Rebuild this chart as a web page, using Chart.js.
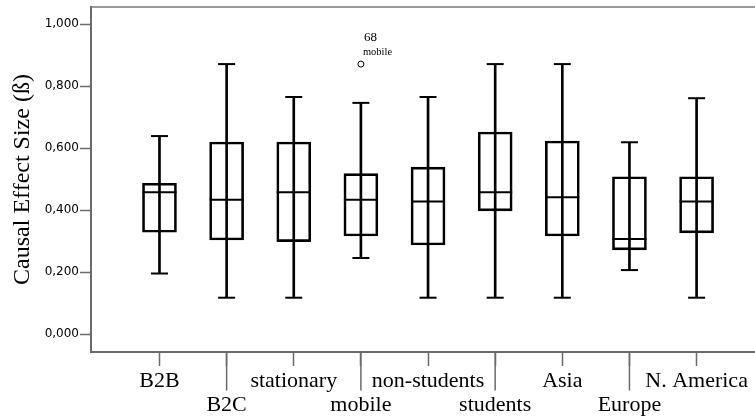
<!DOCTYPE html>
<html><head><meta charset="utf-8">
<script src="https://cdn.jsdelivr.net/npm/chart.js@4/dist/chart.umd.min.js"></script>
<style>html,body{margin:0;padding:0;background:#fff;overflow:hidden}#wrap{width:755px;height:418px;position:relative}</style>
</head><body><div id="wrap"><canvas id="c"></canvas></div>
<script>
const categories = ['B2B','B2C','stationary','mobile','non-students','students','Asia','Europe','N. America'];
const whiskerLow  = [0.196,0.118,0.118,0.246,0.118,0.118,0.118,0.207,0.118];
const q1          = [0.329,0.304,0.299,0.317,0.288,0.398,0.317,0.272,0.327];
const median      = [0.458,0.434,0.458,0.434,0.428,0.458,0.442,0.307,0.428];
const q3          = [0.487,0.620,0.620,0.518,0.539,0.652,0.623,0.508,0.508];
const whiskerHigh = [0.639,0.871,0.765,0.746,0.765,0.871,0.871,0.619,0.761];
const outlierCategory = ['mobile'];
const outlierValue = [0.871];
const outlierLabel = [['68','mobile']];
const yTickValues = [0,0.2,0.4,0.6,0.8,1.0];
const yTitle = 'Causal Effect Size (ß)';

const pos = (i) => i + 1;
const AXIS = '#6b6b6b';
const SERIF = '"Liberation Serif", "Times New Roman", serif';
const noPad = (s) => { s.paddingTop = 0; s.paddingBottom = 0; s.paddingLeft = 0; s.paddingRight = 0; };

const extras = {
  id: 'extras',
  afterDraw(chart) {
    const {ctx, chartArea, scales: {x, y}} = chart;
    ctx.save();
    ctx.strokeStyle = '#7a7a7a'; ctx.lineWidth = 1.5;
    ctx.beginPath(); ctx.moveTo(chartArea.left, chartArea.top); ctx.lineTo(chartArea.right, chartArea.top); ctx.stroke();
    ctx.strokeStyle = AXIS; ctx.lineWidth = 1.5;
    categories.forEach((c, i) => {
      if (i % 2 === 1) {
        const px = x.getPixelForValue(pos(i));
        ctx.beginPath(); ctx.moveTo(px, chartArea.bottom); ctx.lineTo(px, chartArea.bottom + 38.5); ctx.stroke();
      }
    });
    ctx.fillStyle = '#000'; ctx.textAlign = 'left'; ctx.textBaseline = 'alphabetic';
    outlierCategory.forEach((c, k) => {
      const px = x.getPixelForValue(pos(categories.indexOf(c)));
      const py = y.getPixelForValue(outlierValue[k]);
      ctx.font = '13px ' + SERIF; ctx.fillText(outlierLabel[k][0], px + 3, py - 23);
      ctx.font = '10.5px ' + SERIF; ctx.fillText(outlierLabel[k][1], px + 2, py - 9);
    });
    ctx.restore();
  }
};

new Chart(document.getElementById('c'), {
  type: 'bar',
  data: {
    datasets: [
      { type: 'scatter', order: 0, data: categories.map((c,i)=>({x:pos(i), y:median[i]})),
        pointStyle: 'line', pointRadius: 17, pointBorderWidth: 2, borderColor: '#000', backgroundColor: '#000' },
      { type: 'scatter', order: 0, data: categories.flatMap((c,i)=>[{x:pos(i), y:whiskerHigh[i]},{x:pos(i), y:whiskerLow[i]}]),
        pointStyle: 'line', pointRadius: 8.5, pointBorderWidth: 2, borderColor: '#000', backgroundColor: '#000' },
      { type: 'scatter', order: 0, data: outlierCategory.map((c,k)=>({x:pos(categories.indexOf(c)), y:outlierValue[k]})),
        pointStyle: 'circle', pointRadius: 3, pointBorderWidth: 1, borderColor: '#000', backgroundColor: '#fff' },
      { type: 'bar', order: 1, grouped: false, data: categories.map((c,i)=>({x:pos(i), y:[q1[i], q3[i]]})),
        barThickness: 34, backgroundColor: 'rgba(0,0,0,0)', borderColor: '#000', borderWidth: 2, borderSkipped: false },
      { type: 'bar', order: 2, grouped: false, data: categories.map((c,i)=>({x:pos(i), y:[whiskerLow[i], whiskerHigh[i]]})),
        barThickness: 2, backgroundColor: '#000', borderWidth: 0 }
    ]
  },
  options: {
    responsive: true, maintainAspectRatio: false, animation: false, events: [],
    devicePixelRatio: 1,
    layout: { autoPadding: false, padding: { top: 7, left: 0, right: 0, bottom: 0 } },
    plugins: { legend: { display: false }, tooltip: { enabled: false } },
    scales: {
      x: {
        type: 'linear', min: -0.02, max: 9.87, offset: false,
        afterBuildTicks: (s) => { s.ticks = categories.map((c,i)=>({value: pos(i)})); },
        afterFit: (s) => { s.height = 66; noPad(s); },
        grid: { offset: false, drawOnChartArea: false, drawTicks: true, tickLength: 14, color: AXIS, tickWidth: 1.5 },
        border: { display: true, color: AXIS, width: 2 },
        ticks: { autoSkip: false, maxRotation: 0, minRotation: 0, padding: 3, color: '#000',
          font: { family: SERIF, size: 22, lineHeight: 1.11 },
          callback: (v) => { const i = Math.round(v) - 1; const l = categories[i]; return i % 2 ? ['', l] : l; } }
      },
      y: {
        type: 'linear', min: -0.057, max: 1.055,
        afterBuildTicks: (s) => { s.ticks = yTickValues.map(v=>({value: v})); },
        afterFit: (s) => { s.width = 91; noPad(s); },
        grid: { drawOnChartArea: false, drawTicks: true, tickLength: 11, color: AXIS, tickWidth: 1.5 },
        border: { display: true, color: AXIS, width: 2 },
        ticks: { padding: 1, color: '#000', font: { family: '"DejaVu Sans", sans-serif', size: 12 },
          callback: (v) => v.toFixed(3).replace('.', ',') },
        title: { display: true, text: yTitle, color: '#000', font: { family: SERIF, size: 24 }, padding: { top: 8, bottom: 0 } }
      }
    }
  },
  plugins: [extras]
});
</script>
</body></html>
